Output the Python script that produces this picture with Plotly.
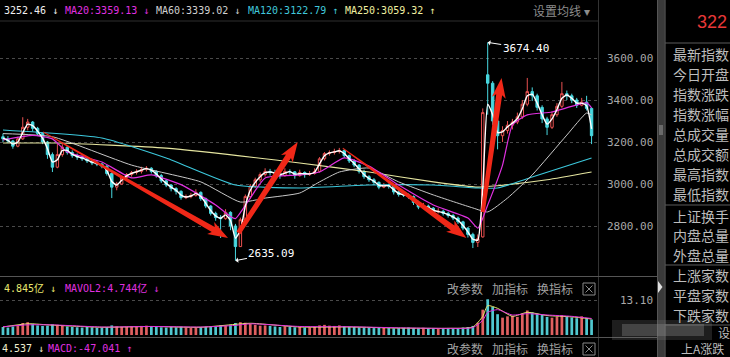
import math
import plotly.graph_objects as go

W, H = 730, 357

# ---------------- data ----------------
idx = list(range(120))
opens = [3225, 3215, 3205, 3180, 3215, 3270, 3295, 3265, 3240, 3200,
         3140, 3080, 3140, 3175, 3150, 3135, 3128, 3120, 3110, 3100,
         3095, 3085, 3050, 2985, 3000, 3030, 3045, 3055, 3060, 3070,
         3075, 3060, 3040, 3015, 2995, 2978, 2965, 2935, 2940, 2945,
         2960, 2930, 2895, 2860, 2840, 2835, 2865, 2800, 2702, 2830,
         2940, 2990, 3020, 3045, 3060, 3055, 3050, 3040, 3060, 3058,
         3040, 3055, 3045, 3050, 3060, 3120, 3145, 3150, 3155, 3160,
         3135, 3110, 3090, 3060, 3035, 3020, 3008, 2985, 2995, 2990,
         2962, 2950, 2948, 2940, 2912, 2890, 2895, 2885, 2868, 2870,
         2860, 2850, 2838, 2820, 2790, 2760, 2722, 2748, 3520, 3480,
         3300, 3230, 3255, 3280, 3295, 3320, 3380, 3440, 3420, 3365,
         3310, 3270, 3330, 3370, 3430, 3420, 3400, 3375, 3390, 3360]
highs = [3240, 3228, 3210, 3225, 3318, 3310, 3300, 3272, 3245, 3205,
         3150, 3195, 3190, 3180, 3160, 3145, 3138, 3130, 3118, 3112,
         3100, 3090, 3055, 3010, 3040, 3052, 3062, 3070, 3082, 3085,
         3080, 3065, 3048, 3022, 3000, 2985, 2970, 2950, 2958, 2975,
         2965, 2935, 2900, 2868, 2852, 2880, 2870, 2810, 2840, 2950,
         3000, 3030, 3055, 3075, 3072, 3068, 3062, 3075, 3070, 3062,
         3068, 3060, 3062, 3075, 3128, 3152, 3160, 3168, 3172, 3165,
         3140, 3118, 3095, 3068, 3042, 3028, 3012, 3005, 3002, 2995,
         2970, 2965, 2955, 2945, 2920, 2910, 2902, 2890, 2885, 2878,
         2868, 2858, 2845, 2825, 2795, 2768, 2760, 3360, 3674.40, 3490,
         3310, 3275, 3300, 3310, 3340, 3400, 3505, 3460, 3430, 3375,
         3320, 3345, 3385, 3486, 3445, 3430, 3410, 3410, 3420, 3365]
lows = [3200, 3195, 3168, 3175, 3210, 3255, 3250, 3230, 3190, 3120,
        3057, 3075, 3130, 3140, 3125, 3115, 3110, 3100, 3090, 3085,
        3075, 3040, 2933, 2970, 2995, 3020, 3035, 3045, 3050, 3060,
        3050, 3030, 3005, 2985, 2965, 2950, 2925, 2928, 2932, 2940,
        2920, 2885, 2850, 2825, 2743, 2830, 2780, 2635.09, 2700, 2825,
        2930, 2980, 3010, 3035, 3040, 3030, 3025, 3035, 3045, 3025,
        3035, 3030, 3038, 3045, 3055, 3112, 3135, 3140, 3145, 3125,
        3100, 3080, 3050, 3025, 3010, 2995, 2975, 2980, 2978, 2950,
        2940, 2938, 2930, 2900, 2880, 2885, 2875, 2855, 2860, 2850,
        2840, 2828, 2810, 2780, 2745, 2695, 2700, 2745, 3330, 3280,
        3165, 3200, 3240, 3260, 3285, 3310, 3370, 3395, 3350, 3290,
        3233, 3262, 3320, 3362, 3400, 3385, 3362, 3370, 3350, 3190]
closes = [3215, 3205, 3180, 3215, 3270, 3295, 3265, 3240, 3200, 3140,
          3080, 3140, 3175, 3150, 3135, 3128, 3120, 3110, 3100, 3095,
          3085, 3050, 2985, 3000, 3030, 3045, 3055, 3060, 3070, 3075,
          3060, 3040, 3015, 2995, 2978, 2965, 2935, 2940, 2945, 2960,
          2930, 2895, 2860, 2840, 2835, 2865, 2800, 2702, 2830, 2940,
          2990, 3020, 3045, 3060, 3055, 3050, 3040, 3060, 3058, 3040,
          3055, 3045, 3050, 3060, 3120, 3145, 3150, 3155, 3160, 3135,
          3110, 3090, 3060, 3035, 3020, 3008, 2985, 2995, 2990, 2962,
          2950, 2948, 2940, 2912, 2890, 2895, 2885, 2868, 2870, 2860,
          2850, 2838, 2820, 2790, 2760, 2722, 2740, 3340, 3480, 3300,
          3230, 3255, 3280, 3295, 3320, 3380, 3440, 3420, 3365, 3310,
          3270, 3330, 3370, 3430, 3420, 3400, 3375, 3390, 3360, 3230]
ma5 = [3218, 3208, 3190, 3200, 3245, 3285, 3278, 3252, 3218, 3168,
       3105, 3115, 3160, 3160, 3142, 3131, 3124, 3114, 3104, 3097,
       3089, 3065, 3012, 2995, 3018, 3039, 3051, 3058, 3066, 3073,
       3066, 3048, 3025, 3003, 2985, 2970, 2947, 2938, 2943, 2954,
       2941, 2908, 2874, 2848, 2837, 2853, 2826, 2742, 2780, 2895,
       2970, 3008, 3035, 3054, 3057, 3052, 3044, 3052, 3059, 3047,
       3049, 3049, 3048, 3056, 3096, 3135, 3148, 3153, 3158, 3145,
       3120, 3098, 3072, 3045, 3026, 3013, 2994, 2991, 2992, 2973,
       2955, 2949, 2943, 2923, 2899, 2893, 2889, 2875, 2869, 2864,
       2854, 2843, 2827, 2802, 2772, 2737, 2733, 2980, 3380, 3330,
       3245, 3248, 3272, 3290, 3312, 3358, 3420, 3428, 3385, 3330,
       3285, 3310, 3355, 3408, 3424, 3408, 3385, 3385, 3372, 3262]

ma20_idx = [0, 6, 10, 13, 20, 26, 30, 36, 43, 46, 47, 50, 53, 60, 64, 69, 74, 80, 87, 94, 96, 98, 101, 103, 106, 111, 118, 119]
ma20_val = [3210, 3232, 3215, 3152, 3105, 3029, 3043, 2997, 2900, 2845, 2835, 2933, 3029, 3043, 3057, 3124, 3085, 2995, 2900, 2838, 2790, 2900, 3090, 3281, 3329, 3343, 3386, 3362]
ma60_idx = [0, 10, 26, 40, 48, 53, 60, 64, 68, 74, 80, 87, 95, 98, 102, 107, 114, 118, 119]
ma60_val = [3240, 3225, 3090, 3010, 2914, 2933, 2957, 3010, 3057, 3076, 3010, 2948, 2886, 2867, 2933, 3043, 3233, 3338, 3329]
ma120_idx = [0, 20, 33, 47, 60, 74, 87, 96, 100, 107, 119]
ma120_val = [3257, 3219, 3124, 2995, 2981, 2995, 2995, 2981, 2981, 3033, 3124]
ma250_idx = [0, 11, 33, 60, 74, 87, 96, 100, 110, 119]
ma250_val = [3195, 3195, 3171, 3100, 3057, 3010, 2985, 2992, 3020, 3057]

vols = [3.0, 2.8, 3.2, 3.4, 4.5, 4.8, 4.2, 3.6, 3.4, 3.5,
        4.0, 3.8, 3.6, 3.2, 3.0, 2.9, 2.8, 3.0, 2.9, 2.7,
        2.8, 3.0, 3.6, 3.2, 3.0, 3.1, 3.3, 3.2, 3.4, 3.5,
        3.2, 3.0, 2.9, 2.8, 3.0, 2.9, 3.1, 2.8, 2.7, 2.9,
        3.0, 3.1, 3.2, 3.3, 3.6, 3.5, 3.8, 4.5, 4.8, 4.6,
        4.2, 3.8, 3.5, 3.6, 3.4, 3.2, 3.0, 3.3, 3.1, 2.9,
        3.0, 2.8, 2.9, 3.0, 3.6, 3.8, 3.5, 3.4, 3.6, 3.3,
        3.1, 3.0, 2.9, 2.8, 2.7, 2.6, 2.8, 2.7, 2.6, 2.5,
        2.6, 2.7, 2.8, 2.6, 2.5, 2.7, 2.6, 2.5, 2.4, 2.6,
        2.5, 2.4, 2.6, 2.8, 3.0, 3.4, 4.6, 9.5, 13.4, 10.5,
        7.8, 6.5, 7.0, 7.2, 6.8, 8.0, 9.2, 8.5, 8.0, 7.6,
        6.8, 6.5, 6.9, 7.4, 7.0, 6.6, 6.3, 7.0, 6.2, 5.8]
mavol_idx = [0, 5, 10, 20, 30, 40, 47, 50, 60, 70, 80, 90, 95, 97, 98, 100, 103, 106, 110, 115, 119]
mavol1_val = [3.0, 4.2, 3.7, 2.9, 3.2, 2.9, 4.0, 4.4, 3.0, 3.0, 2.6, 2.5, 3.0, 7.0, 11.0, 10.0, 7.0, 8.5, 7.3, 6.8, 6.0]
mavol2_val = [3.1, 3.8, 3.8, 3.0, 3.2, 3.0, 3.6, 4.2, 3.2, 3.1, 2.7, 2.5, 2.8, 5.5, 8.5, 9.5, 7.5, 8.0, 7.5, 7.0, 6.2]

price_ticks = [2800, 3000, 3200, 3400, 3600]
price_tick_labels = ["2800.00", "3000.00", "3200.00", "3400.00", "3600.00"]
vol_ticks = [13.10]
vol_tick_labels = ["13.10"]

high_label = (98, 3674.40, "3674.40")
low_label = (47, 2635.09, "2635.09")

# red trend arrows: (tail index, tail price, tip index, tip price)
trend_arrows = [(8.1, 3248, 45.5, 2743), (47.6, 2767, 59.6, 3200),
                (68.7, 3171, 93.7, 2743), (97.0, 2867, 100.8, 3505)]

header_items = ["3252.46 ↓", "MA20:3359.13 ↓", "MA60:3339.02 ↓", "MA120:3122.79 ↑", "MA250:3059.32 ↑"]
vol_header = ["4.845亿 ↓", "MAVOL2:4.744亿 ↓"]
macd_header = ["4.537 ↓", "MACD:-47.041 ↑"]
tool_items = ["改参数", "加指标", "换指标"]
panel_labels = ["最新指数", "今日开盘", "指数涨跌", "指数涨幅", "总成交量", "总成交额", "最高指数", "最低指数",
                "上证换手", "内盘总量", "外盘总量", "上涨家数", "平盘家数", "下跌家数"]

# ---------------- style / layout ----------------
MAG = "#e030e0"
MONO = "DejaVu Sans Mono, Noto Sans CJK SC"
CJK = "Noto Sans CJK SC"

XR = [-0.6, 120.3]
XD = [0, 598 / W]
YR = [2571.43, 3771.43]
YD = [1 - 274 / H, 1 - 22 / H]
VR = [-0.375, 21.75]
VD = [1 - 336 / H, 1 - 277 / H]


def px(x):
    return x / W


def py(y):
    return 1 - y / H


fig = go.Figure()

fig.add_trace(go.Candlestick(
    x=idx, open=opens, high=highs, low=lows, close=closes,
    increasing=dict(line=dict(color="#e85050", width=1), fillcolor="#000000"),
    decreasing=dict(line=dict(color="#48d8e0", width=1), fillcolor="#48d8e0"),
    whiskerwidth=0, hoverinfo="skip", xaxis="x", yaxis="y"))

for xs, ys, col, wd in [(ma250_idx, ma250_val, "#e6e6a0", 1.1),
                        (ma120_idx, ma120_val, "#3cc8dc", 1.1),
                        (ma60_idx, ma60_val, "#c8c8c8", 1.0),
                        (ma20_idx, ma20_val, MAG, 1.2),
                        (idx, ma5, "#ffffff", 1.4)]:
    fig.add_trace(go.Scatter(x=xs, y=ys, mode="lines", hoverinfo="skip",
                             line=dict(color=col, width=wd, shape="spline", smoothing=0.5),
                             xaxis="x", yaxis="y"))

bar_colors = ["#e06060" if c >= o else "#50c8d0" for o, c in zip(opens, closes)]
fig.add_trace(go.Bar(x=idx, y=vols, marker=dict(color=bar_colors, line=dict(width=0)),
                     width=0.55, hoverinfo="skip", xaxis="x2", yaxis="y2"))
for ys, col in [(mavol1_val, "#e8e870"), (mavol2_val, MAG)]:
    fig.add_trace(go.Scatter(x=mavol_idx, y=ys, mode="lines", hoverinfo="skip",
                             line=dict(color=col, width=1, shape="spline", smoothing=0.6),
                             xaxis="x2", yaxis="y2"))

# ---------------- trend arrows as shapes (data coords) ----------------
kx = (XD[1] - XD[0]) * W / (XR[1] - XR[0])
ky = (YD[1] - YD[0]) * H / (YR[1] - YR[0])


def arrow_path(x0, y0, x1, y1, w0, w1=3.0, hw=7.0, hl=17):
    dx, dy = (x1 - x0) * kx, (y1 - y0) * ky
    L = math.hypot(dx, dy)
    ux, uy = dx / L, dy / L
    nx, ny = -uy, ux
    nk = L - hl
    pts = [(nx * w0, ny * w0), (ux * nk + nx * w1, uy * nk + ny * w1),
           (ux * (nk - 3) + nx * hw, uy * (nk - 3) + ny * hw), (ux * L, uy * L),
           (ux * (nk - 3) - nx * hw, uy * (nk - 3) - ny * hw),
           (ux * nk - nx * w1, uy * nk - ny * w1), (-nx * w0, -ny * w0)]
    s = ""
    for k, (a, b) in enumerate(pts):
        s += ("M" if k == 0 else "L") + f"{x0 + a / kx:.3f},{y0 + b / ky:.3f} "
    return s + "Z"


shapes = []
tails = [0.5, 2.4, 0.5, 2.0]
for (a, b, c, d), w0 in zip(trend_arrows, tails):
    shapes.append(dict(type="path", xref="x", yref="y", path=arrow_path(a, b, c, d, w0),
                       fillcolor="#f02818", line=dict(width=0), layer="above"))


def hline(y, x0, x1, col="#3a3a3a", w=1):
    shapes.append(dict(type="line", xref="paper", yref="paper", x0=px(x0), x1=px(x1),
                       y0=py(y), y1=py(y), line=dict(color=col, width=w)))


def vline(x, y0, y1, col="#3a3a3a", w=1):
    shapes.append(dict(type="line", xref="paper", yref="paper", x0=px(x), x1=px(x),
                       y0=py(y0), y1=py(y1), line=dict(color=col, width=w)))


hline(21, 0, 598, "#2e2e2e")
vline(598.5, 0, 357, "#333333")
hline(276.5, 0, 657, "#555555")
hline(337.5, 0, 657, "#555555")
# scrollbar
shapes.append(dict(type="rect", xref="paper", yref="paper", x0=px(657), x1=px(664.5),
                   y0=py(357), y1=py(0), fillcolor="#3a3a3a", line=dict(width=0)))
vline(657.5, 0, 357, "#555555")
vline(665, 0, 357, "#6a6a6a")
shapes.append(dict(type="rect", xref="paper", yref="paper", x0=px(659), x1=px(663),
                   y0=py(135), y1=py(125), fillcolor="#6a6a6a", line=dict(width=0)))
shapes.append(dict(type="path", xref="paper", yref="paper",
                   path=f"M{px(658)},{py(281)} L{px(662.5)},{py(287)} L{px(658)},{py(293)} Z",
                   fillcolor="#e0e0e0", line=dict(width=0)))
for y in [43, 205, 265, 325]:
    hline(y, 665, 730, "#5a5a5a")
# close boxes
for yc in [289, 349]:
    shapes.append(dict(type="rect", xref="paper", yref="paper", x0=px(583), x1=px(595),
                       y0=py(yc + 6), y1=py(yc - 6), line=dict(color="#8a8a8a", width=1)))
    shapes.append(dict(type="line", xref="paper", yref="paper", x0=px(585.5), x1=px(592.5),
                       y0=py(yc - 3.5), y1=py(yc + 3.5), line=dict(color="#8a8a8a", width=1)))
    shapes.append(dict(type="line", xref="paper", yref="paper", x0=px(585.5), x1=px(592.5),
                       y0=py(yc + 3.5), y1=py(yc - 3.5), line=dict(color="#8a8a8a", width=1)))
# blurred watermark smear
shapes.append(dict(type="rect", xref="paper", yref="paper", x0=px(612), x1=px(712),
                   y0=py(340), y1=py(320), fillcolor="rgba(120,120,120,0.25)", line=dict(width=0)))
shapes.append(dict(type="rect", xref="paper", yref="paper", x0=px(622), x1=px(704),
                   y0=py(336), y1=py(324), fillcolor="rgba(140,140,140,0.35)", line=dict(width=0)))

# ---------------- texts ----------------
ann = []


def text(x, y, s, col, size=10, fam=MONO, anchor="left"):
    ann.append(dict(xref="paper", yref="paper", x=px(x), y=py(y), text=s, showarrow=False,
                    xanchor=anchor, yanchor="middle", font=dict(family=fam, size=size, color=col)))


hdr_x = [2, 63, 154, 246, 343]
hdr_c = ["#f0f0f0", MAG, "#d0d0d0", "#40c8dc", "#f0f0a0"]
for s, x, c in zip(header_items, hdr_x, hdr_c):
    text(x, 10, s, c)
text(531, 10, "设置均线 ▾", "#8c8c8c", 12, CJK)

text(2, 288, vol_header[0], "#e8e870")
text(63, 288, vol_header[1], MAG)
text(0, 348, macd_header[0], "#f0f0d0")
text(46, 348, macd_header[1], MAG)
for yc in [288, 348]:
    for s, xc in zip(tool_items, [464.5, 509.5, 554.5]):
        text(xc, yc, s, "#a0a0a0", 12, CJK, "center")

text(729, 22, "322", "#e83838", 18, "Liberation Sans", "right")
label_y = [54, 74, 94, 114, 134, 154, 174, 194, 216, 235, 255, 275, 295, 315]
for s, y in zip(panel_labels, label_y):
    text(671, y, s, "#bdbdbd", 14, CJK)
text(716, 332, "设", "#bdbdbd", 12, CJK)
text(679, 348, "上A涨跌", "#bdbdbd", 12, CJK)

for (xi, yv, s), axo, ayo in [(high_label, 38, 6), (low_label, 36, -7)]:
    ann.append(dict(xref="x", yref="y", x=xi, y=yv, text=s, showarrow=True, ax=axo, ay=ayo,
                    arrowhead=1, arrowsize=0.9, arrowwidth=1, arrowcolor="#ffffff", standoff=0,
                    font=dict(family=MONO, size=11, color="#ffffff")))

axis_common = dict(showline=False, zeroline=False)
fig.update_layout(
    width=W, height=H, autosize=False, margin=dict(l=0, r=0, t=0, b=0),
    paper_bgcolor="#000000", plot_bgcolor="#000000", showlegend=False, hovermode=False,
    xaxis=dict(domain=XD, range=XR, showgrid=False, showticklabels=False, anchor="y",
               rangeslider=dict(visible=False), **axis_common),
    yaxis=dict(domain=YD, range=YR, side="right", anchor="x", tickvals=price_ticks,
               ticktext=price_tick_labels, showgrid=True, gridcolor="#4a4a4a", griddash="dot",
               gridwidth=1, ticks="", ticklabelstandoff=8,
               tickfont=dict(family=MONO, size=11, color="#a8a8a8"), **axis_common),
    xaxis2=dict(domain=XD, range=XR, showgrid=False, showticklabels=False, anchor="y2",
                **axis_common),
    yaxis2=dict(domain=VD, range=VR, side="right", anchor="x2", tickvals=vol_ticks,
                ticktext=vol_tick_labels, showgrid=True, gridcolor="#4a4a4a", griddash="dot",
                ticks="", ticklabelstandoff=21,
                tickfont=dict(family=MONO, size=11, color="#a8a8a8"), **axis_common),
    shapes=shapes, annotations=ann, bargap=0.3,
)

fig.write_html("out.html", config={"displayModeBar": False},
               post_script="document.body.style.margin='0';document.body.style.padding='0';document.body.style.overflow='hidden';")
